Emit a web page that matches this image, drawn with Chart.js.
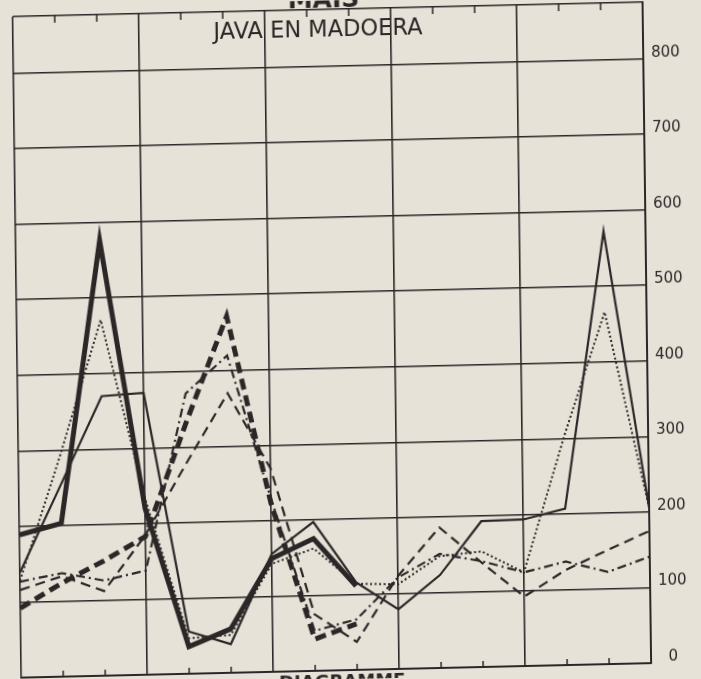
<!DOCTYPE html>
<html>
<head>
<meta charset="utf-8">
<script src="https://cdn.jsdelivr.net/npm/chart.js@4.4.1/dist/chart.umd.min.js"></script>
<style>
  html, body { margin: 0; padding: 0; background: #e6e2d8; overflow: hidden; width: 701px; height: 679px; }
  #wrap { width: 701px; height: 679px; transform: matrix(1, -0.023, 0.013, 1, 0, 0); transform-origin: 50% 50%; }
  canvas { display: block; }
</style>
</head>
<body>
<div id="wrap"><canvas id="c" width="701" height="679"></canvas></div>
<script>
// ---- data ----
const categories = ['1','2','3','4','5','6','7','8','9','10','11','12','13','14','15','16'];
const thickSolid  = [189, 203, 576, 220, 36, 58, 150, 175, 111, null, null, null, null, null, null, null];
const thinSolid   = [139, 254, 370, 373, 56, 38, 156, 197, 116, 79, 123, 193, 194, 207, 573, 206];
const dotted      = [128, 294, 471, 234, 47, 50, 143, 162, 114, 112, 148, 153, 124, 303, 466, 206];
const thickDashed = [92, 124, 152, 183, 332, 472, 223, 42, 61, null, null, null, null, null, null, null];
const dashDot     = [127, 137, 126, 138, 371, 420, 229, 53, 67, 121, 151, 140, 124, 137, 122, 141];
const longDashed  = [116, 133, 112, 185, 279, 370, 269, 75, 37, 123, 186, 138, 92, 126, 151, 175];
const yTickValues = [0, 100, 200, 300, 400, 500, 600, 700, 800, 875];
const titleText = 'JAVA EN MADOERA';
const topText = 'MAIS';
const bottomText = 'DIAGRAMME';

const INK = '#2b2727';
const FONT = '"DejaVu Sans", "Liberation Sans", Arial, sans-serif';

const decor = {
  id: 'decor',
  afterDraw(chart) {
    const { ctx, chartArea: a, scales: { x } } = chart;
    ctx.save();
    ctx.strokeStyle = INK;
    ctx.lineWidth = 1.5;
    categories.forEach((c, i) => {
      if (i % 3 === 0) return;
      const px = x.getPixelForValue(i);
      ctx.beginPath();
      ctx.moveTo(px, a.bottom); ctx.lineTo(px, a.bottom - 6);
      ctx.moveTo(px, a.top); ctx.lineTo(px, a.top + 7);
      ctx.stroke();
    });
    ctx.fillStyle = INK;
    ctx.textAlign = 'center';
    ctx.textBaseline = 'middle';
    ctx.font = '22.5px ' + FONT;
    ctx.fillText(titleText, 322, 30);
    ctx.font = 'bold 25px ' + FONT;
    ctx.textBaseline = 'alphabetic';
    ctx.fillText(topText, 328, 7);
    ctx.font = 'bold 18px ' + FONT;
    ctx.textBaseline = 'top';
    ctx.fillText(bottomText, 338, 673);
    ctx.restore();
  }
};

function ds(data, width, dash) {
  return {
    data,
    borderColor: INK,
    backgroundColor: INK,
    borderWidth: width,
    borderDash: dash,
    pointRadius: 0,
    tension: 0,
    fill: false,
    spanGaps: false,
    borderJoinStyle: 'miter',
    borderCapStyle: 'butt'
  };
}

new Chart(document.getElementById('c'), {
  type: 'line',
  data: {
    labels: categories,
    datasets: [
      ds(thickSolid, 5, []),
      ds(thinSolid, 2.2, []),
      ds(dotted, 2, [2, 2.5]),
      ds(thickDashed, 5, [11, 6]),
      ds(dashDot, 2.2, [9, 4, 2, 4]),
      ds(longDashed, 2.2, [10, 6])
    ]
  },
  options: {
    responsive: false,
    devicePixelRatio: 1,
    animation: false,
    layout: { padding: { left: 17, top: 9, bottom: 9, right: 0 } },
    plugins: { legend: { display: false }, tooltip: { enabled: false }, title: { display: false } },
    scales: {
      x: {
        type: 'category',
        offset: false,
        ticks: { display: false },
        grid: {
          drawTicks: false,
          color: (c) => (c.index % 3 === 0 ? INK : 'rgba(0,0,0,0)'),
          lineWidth: 1.6
        },
        border: { display: true, color: INK, width: 2 },
        afterFit: (scale) => { scale.height = 0; scale.paddingLeft = 0; scale.paddingRight = 0; }
      },
      y: {
        position: 'right',
        min: 0,
        max: 875,
        afterBuildTicks: (scale) => { scale.ticks = yTickValues.map(v => ({ value: v })); },
        afterFit: (scale) => { scale.width = 54; scale.paddingTop = 0; scale.paddingBottom = 0; },
        ticks: {
          color: INK,
          font: { family: FONT, size: 15 },
          padding: 8,
          crossAlign: 'center',
          labelOffset: -6,
          callback: (v) => String(v)
        },
        grid: { drawTicks: false, color: INK, lineWidth: 1.6 },
        border: { display: true, color: INK, width: 2 }
      }
    }
  },
  plugins: [decor]
});
</script>
</body>
</html>
